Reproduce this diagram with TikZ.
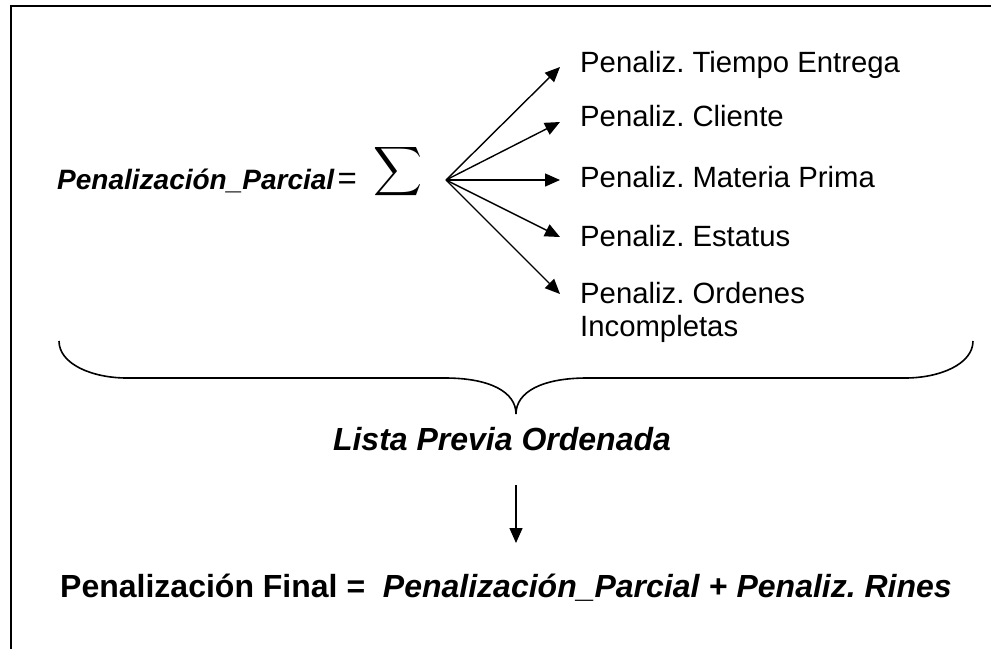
\documentclass[tikz,border=0pt]{standalone}
\usepackage{fontspec}
\usepackage{graphicx}
\setmainfont{Liberation Sans}
\usetikzlibrary{arrows.meta}
\tikzset{
  arr/.style={line width=1.4pt,-{Triangle[length=15pt,width=13pt]}},
  lbl/.style={anchor=base west,inner sep=0pt,font=\fontsize{29.3}{34}\selectfont},
  big/.style={inner sep=0pt,font=\fontsize{32}{38}\selectfont\bfseries\itshape},
  brace/.style={line width=1.6pt},
  frame/.style={line width=2.4pt}
}
\begin{document}
\frenchspacing
\begin{tikzpicture}[x=1pt,y=-1pt]
\useasboundingbox (0,0) rectangle (991,649);
% frame
\coordinate (fa) at (991,6);
\coordinate (fb) at (11,6);
\coordinate (fc) at (11,649);
\draw[frame] (fa) -- (fb) -- (fc);
% left formula
\node[anchor=base west,inner sep=0pt,font=\fontsize{28}{34}\selectfont] (pp) at (57,189)
  {\textbf{\textit{Penalización\_Parcial}}\kern3pt{\fontsize{33}{40}\selectfont=}};
\node[inner sep=0pt] (sig) at (398,172) {\resizebox*{49pt}{55pt}{$\displaystyle\sum$}};
\coordinate (o) at (446,180);
% labels
\node[lbl] (l1) at (580,72) {Penaliz. Tiempo Entrega};
\node[lbl] (l2) at (580,126) {Penaliz. Cliente};
\node[lbl] (l3) at (580,187) {Penaliz. Materia Prima};
\node[lbl] (l4) at (580,246) {Penaliz. Estatus};
\node[lbl] (l5) at (580,303) {Penaliz. Ordenes};
\node[lbl] (l6) at (580,336) {Incompletas};
\coordinate (t1) at (560,67);
\coordinate (t2) at (560,122);
\coordinate (t3) at (560,180);
\coordinate (t4) at (560,237);
\coordinate (t5) at (560,294);
\foreach \i in {1,...,5} \draw[arr] (o) -- (t\i);
% brace
\coordinate (bl) at (59,341);
\coordinate (bm) at (516,414);
\coordinate (br) at (973,341);
\draw[brace] (bl) .. controls (59,364) and (92,378) .. (127,378) -- (445,378)
  .. controls (490,378) and (516,392) .. (bm)
  .. controls (516,392) and (542,378) .. (587,378) -- (905,378)
  .. controls (940,378) and (973,364) .. (br);
% Lista
\node[big,anchor=base] (lista) at (502,450) {Lista Previa Ordenada};
\coordinate (da) at (516,485);
\coordinate (db) at (516,543);
\draw[arr] (da) -- (db);
% final
\node[anchor=base west,inner sep=0pt,font=\fontsize{32}{38}\selectfont\bfseries] (fin) at (60,597)
  {Penalización Final = \ \textit{Penalización\_Parcial} + \textit{Penaliz. Rines}};
\end{tikzpicture}
\end{document}
